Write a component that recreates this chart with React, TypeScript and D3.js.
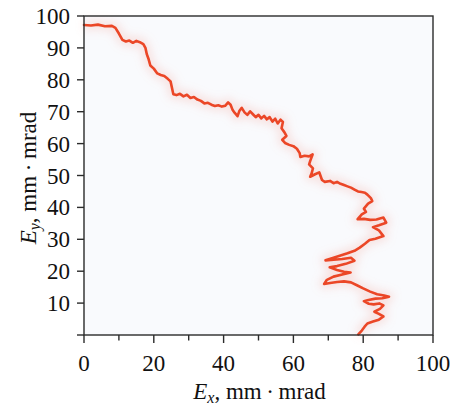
import React from "react";
import * as d3 from "d3";

const xTicksMajor = [0, 20, 40, 60, 80, 100];
const xTicksMinor = [10, 30, 50, 70, 90];
const yTicks = [0, 10, 20, 30, 40, 50, 60, 70, 80, 90, 100];

const exValues = [0,2,4,6,8,9,10,11,12,13,14,15,16,17,17.6,18,18.5,19,20,21,22,23,24,24.8,25.2,25.6,26.5,27.5,28.5,29.5,30.5,31.5,32.5,33.5,34.5,35.5,36.5,37.5,38.5,39.5,40.5,41.3,42,42.6,43.2,44,44.5,45.2,46,46.8,47.6,48.4,49.2,50,50.8,51.6,52.4,53.2,54,54.8,55.5,56.3,57,56.6,57.4,58,56.8,57.6,58.8,60,61,61.8,62,63.2,64.5,65.5,64.8,64.5,65.6,65.2,64.8,66.2,67.4,68.2,69,70.5,71.5,72.5,73.5,74.5,75.5,76.5,77.5,78.5,79.5,80.5,81.2,82.2,82.6,81.4,80.2,80.8,79.6,78.4,80.2,82,83.8,85.8,86.6,84.5,82.8,84.5,85.8,83.5,81.8,80.5,79,77.5,75.5,73.5,71.5,69.2,71.5,74,76.5,77.5,75,72.5,70.4,72.5,74.5,76.4,74,71.5,69.6,68.8,70.5,72.5,74.5,76.5,78.2,80,82,84,86,87.4,85.5,83.5,81.5,80.2,81.6,83,84.6,85.8,84.8,83.2,84.5,85.8,84.5,82.8,81.2,80.4,79.6,78.6];
const eyValues = [97.2,97,97.3,96.8,96.9,96.3,94.5,92.5,92,92.3,91.6,92.2,91.8,91.2,90,88,86.5,84.5,83.5,82,81.5,81.2,80.3,79.5,77.5,75.5,75.2,75.6,74.8,75.3,74.3,74.6,73.8,73.4,72.6,72.8,72.2,71.8,72,71.6,71.9,72.9,72.2,70.5,69.6,68.6,70.2,71.2,69.8,69,70.1,69.2,68.3,69,67.9,68.7,67.6,68.3,66.9,67.8,66.3,67.5,66.8,64.8,63.6,62.4,61.2,60.2,59.6,59.2,58.4,57,55.8,56.2,56,56.6,54.5,53.5,52.2,50.6,49.6,50.4,51,48.6,48,48.3,47.6,48,47.4,47,46.6,46.2,45.6,45,44.8,44.6,44,42.9,42,41.2,39.6,38.6,37.8,36.3,36.4,36.1,36.2,36.8,35.2,34.4,33.8,32.8,31,30.2,29.8,28.6,27.4,26.4,25.6,24.9,24.2,23.4,23.6,23.8,24.2,23.3,22.3,21.6,21.2,20.4,19.8,19.6,19,18.3,17.3,16,16.3,16.6,16.8,16.5,15.6,14.6,13.6,12.8,12.4,12,11.5,11.4,11,10.6,9.8,9.6,9.9,9.3,8.2,7.3,6.6,5.8,4.8,4.2,3.6,2.6,1.4,0.2];

const W = 452, H = 407;
const L = 84, R = 433, T = 16, B = 335;

export default function App() {
  const x = d3.scaleLinear().domain([0, 100]).range([L, R]);
  const y = d3.scaleLinear().domain([0, 100]).range([B, T]);
  const pts: [number, number][] = exValues.map((v, i) => [v, eyValues[i]]);
  const line = d3.line<[number, number]>().x(d => x(d[0])).y(d => y(d[1]));
  const path = line(pts) || "";
  const font = "'Liberation Serif', 'Times New Roman', serif";
  const axisColor = "#2b2b2b";
  const fs = 23;
  return (
    <svg width={W} height={H} style={{ position: "absolute", left: 0, top: 0, background: "#fff" }} fontFamily={font}>
      <defs>
        <filter id="soft" x="-10%" y="-10%" width="120%" height="120%">
          <feGaussianBlur stdDeviation="0.6" />
        </filter>
        <filter id="halo" x="-20%" y="-20%" width="140%" height="140%">
          <feGaussianBlur stdDeviation="4" />
        </filter>
      </defs>
      <rect x={L} y={T} width={R - L} height={B - T} fill="#f9fafd" />
      <path d={path} fill="none" stroke="#f3a08f" strokeWidth={10} strokeOpacity={0.25} filter="url(#halo)" strokeLinejoin="round" />
      <path d={path} fill="none" stroke="#eb4628" strokeWidth={2.6} strokeLinejoin="round" strokeLinecap="round" filter="url(#soft)" />
      <rect x={L} y={T} width={R - L} height={B - T} fill="none" stroke={axisColor} strokeWidth={1.4} />
      {xTicksMajor.map(t => (
        <g key={"xm" + t}>
          <line x1={x(t)} x2={x(t)} y1={B} y2={B + 8} stroke={axisColor} strokeWidth={1.4} />
          <text x={x(t)} y={B + 36} textAnchor="middle" fontSize={fs} fill="#111">{t}</text>
        </g>
      ))}
      {xTicksMinor.map(t => (
        <line key={"xn" + t} x1={x(t)} x2={x(t)} y1={B} y2={B + 5.5} stroke={axisColor} strokeWidth={1.4} />
      ))}
      {yTicks.map(t => (
        <g key={"y" + t}>
          <line x1={L - 7} x2={L} y1={y(t)} y2={y(t)} stroke={axisColor} strokeWidth={1.4} />
          {t > 0 && (
            <text x={L - 14} y={y(t) + 8} textAnchor="end" fontSize={fs} fill="#111">{t}</text>
          )}
        </g>
      ))}
      <text x={(L + R) / 2 + 1} y={399} textAnchor="middle" fontSize={fs} fill="#111">
        <tspan fontStyle="italic">E</tspan>
        <tspan fontStyle="italic" fontSize={16} dy={4}>x</tspan>
        <tspan dy={-4}>, mm{"\u2009·\u2009"}mrad</tspan>
      </text>
      <text transform={`translate(36, 178) rotate(-90)`} textAnchor="middle" fontSize={fs} fill="#111">
        <tspan fontStyle="italic">E</tspan>
        <tspan fontStyle="italic" fontSize={16} dy={4}>y</tspan>
        <tspan dy={-4}>, mm{"\u2009·\u2009"}mrad</tspan>
      </text>
    </svg>
  );
}
